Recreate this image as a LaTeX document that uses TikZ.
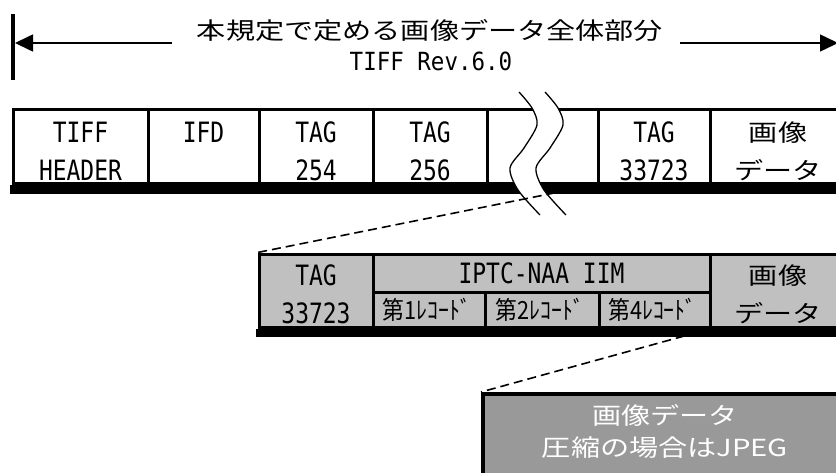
\documentclass[tikz,border=0pt]{standalone}
\usepackage{fontspec}
\usetikzlibrary{arrows.meta}
\newfontfamily\jpf[FakeStretch=1.24]{Noto Sans CJK JP}
\newfontfamily\jpsf[FakeStretch=0.87]{Noto Sans CJK JP}
\newfontfamily\monof[FakeStretch=0.9]{DejaVu Sans Mono}
\newfontfamily\monob[FakeStretch=0.82]{DejaVu Sans Mono}
\definecolor{lgray}{HTML}{C0C0C0}
\definecolor{dgray}{HTML}{999999}
\begin{document}
\begin{tikzpicture}[x=1pt,y=-1pt,
  cellbox/.style={draw=black,line width=3pt,rectangle,inner sep=0pt,minimum height=74pt},
  lcell/.style={draw=black,fill=lgray,line width=3pt,rectangle,inner sep=0pt},
  latin/.style={font=\monob\fontsize{28}{38}\selectfont,align=center,inner sep=0pt},
  jpn/.style={font=\jpf\fontsize{23.5}{38}\selectfont,align=center,inner sep=0pt},
  rec/.style={font=\jpsf\fontsize{25}{27}\selectfont,inner sep=0pt},
  dashln/.style={dash pattern=on 9pt off 5pt,line width=1.6pt},
  arrowln/.style={line width=1.6pt,-{Triangle[length=18pt,width=17pt]}},
]
\useasboundingbox (0,0) rectangle (836,472);
% title
\node[jpn] (title) at (430,30) {本規定で定める画像データ全体部分};
\node[latin,font=\monof\fontsize{25}{30}\selectfont] (sub) at (431,61) {TIFF Rev.6.0};
\coordinate (lbT) at (13,14);
\coordinate (lbB) at (13,80);
\draw[line width=4pt] (lbT) -- (lbB);
\coordinate (aLs) at (172,43);
\coordinate (aLe) at (15,43);
\coordinate (aRs) at (680,43);
\coordinate (aRe) at (838,43);
\draw[arrowln] (aLs) -- (aLe);
\draw[arrowln] (aRs) -- (aRe);
% top row
\node[cellbox,minimum width=135pt] (tiff) at (80.5,146) {};
\node[cellbox,minimum width=111pt] (ifd) at (203.5,146) {};
\node[cellbox,minimum width=114pt] (t254) at (316,146) {};
\node[cellbox,minimum width=114pt] (t256) at (430,146) {};
\node[cellbox,minimum width=111pt] (gap) at (542.5,146) {};
\node[cellbox,minimum width=112pt] (t33723) at (654,146) {};
\node[cellbox,minimum width=136pt] (img) at (778,146) {};
\fill ([xshift=-1.5pt]tiff.south west) rectangle ([yshift=-9pt]img.south east);
\node[latin] (tiffT) at (80.5,151) {TIFF\\HEADER};
\node[latin] (ifdT) at (203.5,132) {IFD};
\node[latin] (t254T) at (316,151) {TAG\\254};
\node[latin] (t256T) at (430,151) {TAG\\256};
\node[latin] (t33723T) at (654,151) {TAG\\33723};
\node[jpn] (imgT) at (778,151) {画像\\データ};
% break mark
\fill[white] plot[smooth] coordinates {(519,92) (532,108) (537,125) (524,148) (510,168) (518,190) (540,215)}
  -- plot[smooth] coordinates {(566,215) (544,190) (536,168) (550,148) (563,125) (558,108) (545,92)} -- cycle;
\draw[line width=1.3pt] plot[smooth] coordinates {(519,92) (532,108) (537,125) (524,148) (510,168) (518,190) (540,215)};
\draw[line width=1.3pt] plot[smooth] coordinates {(545,92) (558,108) (563,125) (550,148) (536,168) (544,190) (566,215)};
% lower row
\node[lcell,minimum width=114pt,minimum height=73pt] (ltag) at (316,290.5) {};
\node[lcell,minimum width=337pt,minimum height=38pt] (iptc) at (541.5,273) {};
\node[lcell,minimum width=112pt,minimum height=35pt] (r1) at (429,309.5) {};
\node[lcell,minimum width=114pt,minimum height=35pt] (r2) at (542,309.5) {};
\node[lcell,minimum width=111pt,minimum height=35pt] (r3) at (654.5,309.5) {};
\node[lcell,minimum width=136pt,minimum height=73pt] (limg) at (778,290.5) {};
\fill ([xshift=-1.5pt]ltag.south west) rectangle ([yshift=-8pt]limg.south east);
\node[latin] (ltagT) at (316,294) {TAG\\33723};
\node[latin] (iptcT) at (541.5,273) {IPTC-NAA IIM};
\node[rec] (r1T) at (427,310) {第1ﾚｺｰﾄﾞ};
\node[rec] (r2T) at (540,310) {第2ﾚｺｰﾄﾞ};
\node[rec] (r3T) at (652.5,310) {第4ﾚｺｰﾄﾞ};
\node[jpn] (limgT) at (778,294) {画像\\データ};
% jpeg box
\node[draw=black,line width=4pt,fill=dgray,rectangle,inner sep=0pt,minimum width=363pt,minimum height=90pt] (jpeg) at (664.5,439) {};
\node[jpn,text=white,font=\jpf\fontsize{23.5}{32}\selectfont] (jpegT) at (665,431) {画像データ\\圧縮の場合はJPEG};
% dashed connectors
\draw[dashln] (t33723.south west) -- (ltag.north west);
\draw[dashln] (r3.south east) -- (jpeg.north west);
\end{tikzpicture}
\end{document}
